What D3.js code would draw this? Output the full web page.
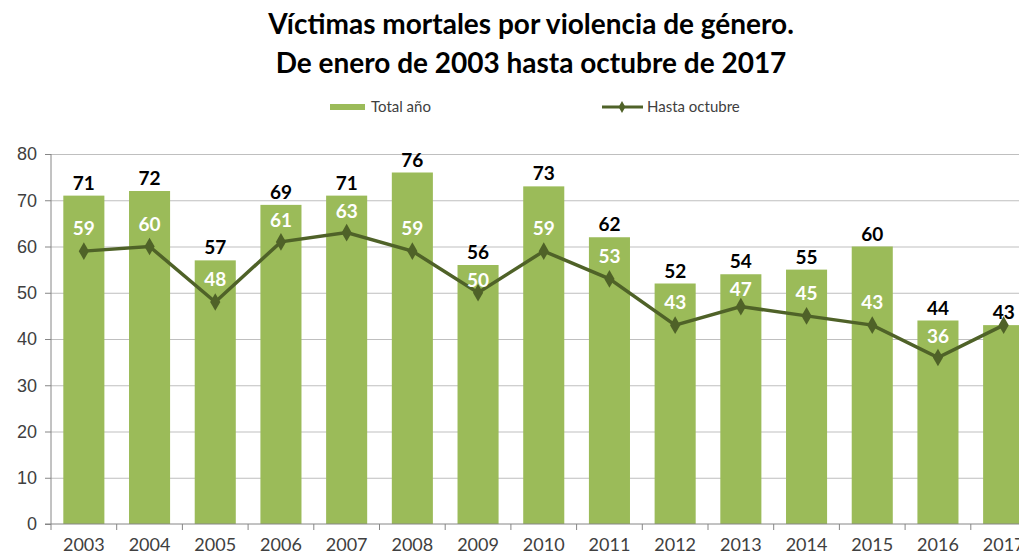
<!DOCTYPE html>
<html>
<head>
<meta charset="utf-8">
<script src="https://cdn.jsdelivr.net/npm/d3@7"></script>
<style>
  body { margin: 0; background: #fff; overflow: hidden; }
  svg { font-family: "Lato", "DejaVu Sans", sans-serif; display: block; }
  .title { font-size: 28px; font-weight: bold; fill: #000; }
  .grid line { stroke: #bfbfbf; stroke-width: 1; }
  .grid .domain { display: none; }
  .axis text { font-size: 18px; fill: #404040; }
  .axis line, .axis path { stroke: #868686; }
  .legend text { font-size: 15px; fill: #404040; }
  .lbl-total { font-size: 19px; font-weight: bold; fill: #000; }
  .lbl-line { font-size: 19px; font-weight: bold; fill: #fff; }
</style>
</head>
<body>
<svg width="1019" height="555"></svg>
<script>
var years = ["2003", "2004", "2005", "2006", "2007", "2008", "2009", "2010",
             "2011", "2012", "2013", "2014", "2015", "2016", "2017"];
var totalAnio = [71, 72, 57, 69, 71, 76, 56, 73, 62, 52, 54, 55, 60, 44, 43];
var hastaOctubre = [59, 60, 48, 61, 63, 59, 50, 59, 53, 43, 47, 45, 43, 36, 43];
var yTicks = [0, 10, 20, 30, 40, 50, 60, 70, 80];

var svg = d3.select("svg"),
    margin = {top: 154, left: 51},
    bottomY = 524;

var data = years.map(function(y, i) {
  return {year: y, total: totalAnio[i], hasta: hastaOctubre[i]};
});

// band scale runs past the right edge, the last year is cut off like the original
var x = d3.scaleBand().domain(years).range([margin.left, margin.left + 15 * 65.7]).paddingInner(0.375).paddingOuter(0.1875),
    y = d3.scaleLinear().domain([0, 80]).range([bottomY, margin.top]);

// title
svg.append("text").attr("class", "title").attr("x", 531).attr("y", 34)
    .attr("text-anchor", "middle").text("Víctimas mortales por violencia de género.");
svg.append("text").attr("class", "title").attr("x", 531).attr("y", 73)
    .attr("text-anchor", "middle").text("De enero de 2003 hasta octubre de 2017");

// legend
var legend = svg.append("g").attr("class", "legend");
legend.append("rect").attr("x", 330).attr("y", 104).attr("width", 35).attr("height", 6).attr("fill", "#9bbb59");
legend.append("text").attr("x", 371).attr("y", 112).text("Total año");
legend.append("line").attr("x1", 602).attr("x2", 643).attr("y1", 107).attr("y2", 107)
    .attr("stroke", "#4f6228").attr("stroke-width", 3);
legend.append("path").attr("d", d3.symbol(d3.symbolDiamond, 40)())
    .attr("transform", "translate(622,107)").attr("fill", "#4f6228");
legend.append("text").attr("x", 647).attr("y", 112).text("Hasta octubre");

// gridlines
svg.append("g").attr("class", "grid")
    .attr("transform", "translate(" + margin.left + ",0)")
    .call(d3.axisLeft(y).tickValues(yTicks.slice(1)).tickSize(-1000).tickFormat(""));

// bars
svg.selectAll(".bar").data(data)
  .enter().append("rect")
    .attr("class", "bar")
    .attr("x", function(d) { return x(d.year); })
    .attr("width", x.bandwidth())
    .attr("y", function(d) { return y(d.total); })
    .attr("height", function(d) { return y(0) - y(d.total); })
    .attr("fill", "#9bbb59");

// y axis
svg.append("g").attr("class", "axis")
    .attr("transform", "translate(" + margin.left + ",0)")
    .call(d3.axisLeft(y).tickValues(yTicks).tickSize(6).tickPadding(8))
    .call(function(g) { g.select(".domain").attr("d", "M0," + y(80) + "V" + y(0)); });

// x axis, ticks between categories
var xAxis = svg.append("g").attr("class", "axis")
    .attr("transform", "translate(0," + bottomY + ")");
xAxis.append("line").attr("x1", margin.left - 6).attr("x2", 1019).attr("stroke", "#868686");
xAxis.selectAll(".xt").data(years)
  .enter().append("line")
    .attr("x1", function(d) { return x(d) - x.step() * x.paddingInner() / 2; })
    .attr("x2", function(d) { return x(d) - x.step() * x.paddingInner() / 2; })
    .attr("y1", 0).attr("y2", 6).attr("stroke", "#868686");
xAxis.selectAll(".xl").data(years)
  .enter().append("text")
    .attr("x", function(d) { return x(d) + x.bandwidth() / 2; })
    .attr("y", 27)
    .attr("text-anchor", "middle")
    .text(function(d) { return d; });

// line
var line = d3.line()
    .x(function(d) { return x(d.year) + x.bandwidth() / 2; })
    .y(function(d) { return y(d.hasta); });

svg.append("path").datum(data)
    .attr("d", line)
    .attr("fill", "none")
    .attr("stroke", "#4f6228")
    .attr("stroke-width", 3.5);

svg.selectAll(".marker").data(data)
  .enter().append("path")
    .attr("class", "marker")
    .attr("d", d3.symbol(d3.symbolDiamond, 90)())
    .attr("fill", "#4f6228")
    .attr("transform", function(d) { return "translate(" + (x(d.year) + x.bandwidth() / 2) + "," + y(d.hasta) + ")"; });

// labels: total above bar
svg.selectAll(".lbl-total").data(data)
  .enter().append("text")
    .attr("class", "lbl-total")
    .attr("x", function(d) { return x(d.year) + x.bandwidth() / 2; })
    .attr("y", function(d) { return y(d.total) - 6; })
    .attr("text-anchor", "middle")
    .text(function(d) { return d.total; });

// labels: hasta octubre, white above marker, kept inside the bar (hidden where it equals the total)
svg.selectAll(".lbl-line").data(data.filter(function(d) { return d.hasta < d.total; }))
  .enter().append("text")
    .attr("class", "lbl-line")
    .attr("x", function(d) { return x(d.year) + x.bandwidth() / 2; })
    .attr("y", function(d) { return Math.max(y(d.hasta) - 16, y(d.total) + 22); })
    .attr("text-anchor", "middle")
    .text(function(d) { return d.hasta; });
</script>
</body>
</html>
